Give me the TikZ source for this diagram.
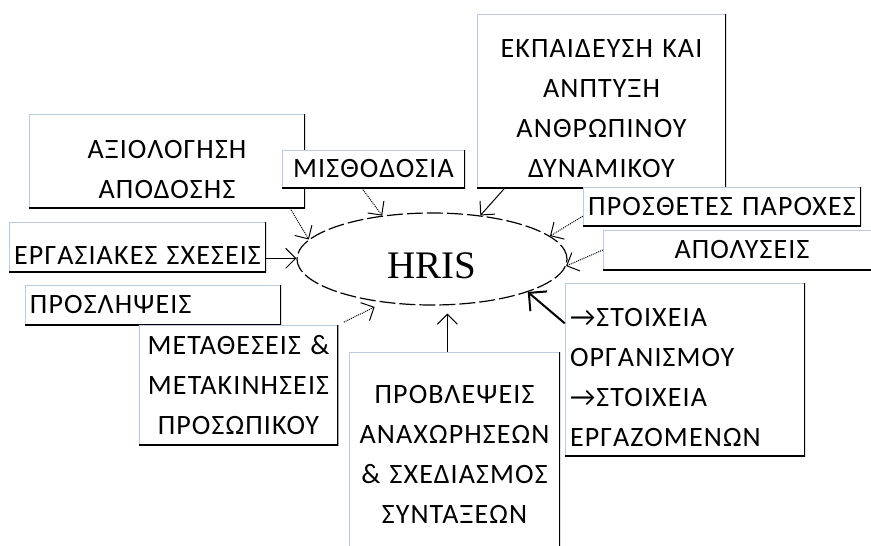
\documentclass[tikz,border=0pt]{standalone}
\usepackage{fontspec}
\setmainfont{Carlito}[LetterSpace=4]
\newfontfamily\hrisfont{Liberation Serif}
\usetikzlibrary{shapes.geometric,arrows.meta}
\definecolor{boxrim}{RGB}{190,202,224}

\begin{document}
\begin{tikzpicture}[x=1pt, y=-1pt,
    box/.style={fill=white, inner xsep=5pt, inner ysep=0pt, align=center,
        font=\fontsize{28}{40}\selectfont,
        path picture={
            \draw [boxrim, line width=2pt]
                (path picture bounding box.south west) |- (path picture bounding box.north east);
            \draw [line width=3pt]
                (path picture bounding box.north east) |- (path picture bounding box.south west);
        }},
    low/.style={execute at begin node={\rule{0pt}{#1}}},
    feed/.style={-{Straight Barb[length=10pt,width=20pt]}, line width=1pt}
    ]
    \useasboundingbox (0,0) rectangle (871,546);

    \node [ellipse, draw, line width=1.2pt, dash pattern=on 16pt off 4pt,
           minimum width=270pt, minimum height=92pt, inner sep=0pt,
           font=\hrisfont\fontsize{39}{39}\selectfont, low=39pt]
        (hris) at (432,259) {HRIS}
        ;

    \node [box, low=36pt, text width=266pt, minimum height=94pt]
        (axio) at (167,161) {ΑΞΙΟΛΟΓΗΣΗ\\ΑΠΟΔΟΣΗΣ}
        ;
    \node [box, text width=173pt, minimum height=38pt]
        (misth) at (373.5,169) {ΜΙΣΘΟΔΟΣΙΑ}
        ;
    \node [box, low=34pt, text width=239pt, minimum height=174pt]
        (ekp) at (601.5,101) {ΕΚΠΑΙΔΕΥΣΗ ΚΑΙ\\ΑΝΠΤΥΞΗ\\ΑΝΘΡΩΠΙΝΟΥ\\ΔΥΝΑΜΙΚΟΥ}
        ;
    \node [box, text width=268pt, minimum height=39pt]
        (prost) at (722,206.5) {ΠΡΟΣΘΕΤΕΣ ΠΑΡΟΧΕΣ}
        ;
    \node [box, text width=268pt, minimum height=40pt]
        (apol) at (742,250) {ΑΠΟΛΥΣΕΙΣ}
        ;
    \node [box, low=34pt, text width=247pt, minimum height=50pt]
        (erg) at (137.5,247) {ΕΡΓΑΣΙΑΚΕΣ ΣΧΕΣΕΙΣ}
        ;
    \node [box, align=left, text width=246pt, minimum height=40pt]
        (prosl) at (153,305) {ΠΡΟΣΛΗΨΕΙΣ}
        ;
    \node [box, text width=189.5pt, minimum height=120pt]
        (metath) at (238.5,385) {ΜΕΤΑΘΕΣΕΙΣ \&\\ΜΕΤΑΚΙΝΗΣΕΙΣ\\ΠΡΟΣΩΠΙΚΟΥ}
        ;
    \node [box, text width=201pt, minimum height=204pt]
        (provl) at (454.5,454) {ΠΡΟΒΛΕΨΕΙΣ\\ΑΝΑΧΩΡΗΣΕΩΝ\\\& ΣΧΕΔΙΑΣΜΟΣ\\ΣΥΝΤΑΞΕΩΝ}
        ;
    \node [box, low=35pt, align=left, text width=230pt, minimum height=173pt]
        (stoix) at (685,369.5) {→ΣΤΟΙΧΕΙΑ\\ΟΡΓΑΝΙΣΜΟΥ\\→ΣΤΟΙΧΕΙΑ\\ΕΡΓΑΖΟΜΕΝΩΝ}
        ;

    % arrows into the ellipse
    \draw [feed, densely dotted] (axio.-21) -- (hris.171);
    \draw [feed, densely dotted] (misth.239) -- (hris.139);
    \draw [feed] (ekp.222) -- (hris.42);
    \draw [feed, densely dotted] (prost.184) -- (hris.11);
    \draw [feed, densely dotted] (apol.west) -- (hris.-3);
    \draw [feed] (erg.-5) -- (erg.-5 -| hris.west);
    \draw [feed, shorten >=8pt] (provl.94) -- (provl.94 |- hris.south);
    \draw [feed, densely dotted, shorten <=6pt, shorten >=10pt]
        (metath.north east) -- (hris.222);
    \draw [line width=2pt, -{Straight Barb[length=13pt,width=26pt]}]
        (stoix.159) -- (hris.-19);
\end{tikzpicture}
\end{document}
